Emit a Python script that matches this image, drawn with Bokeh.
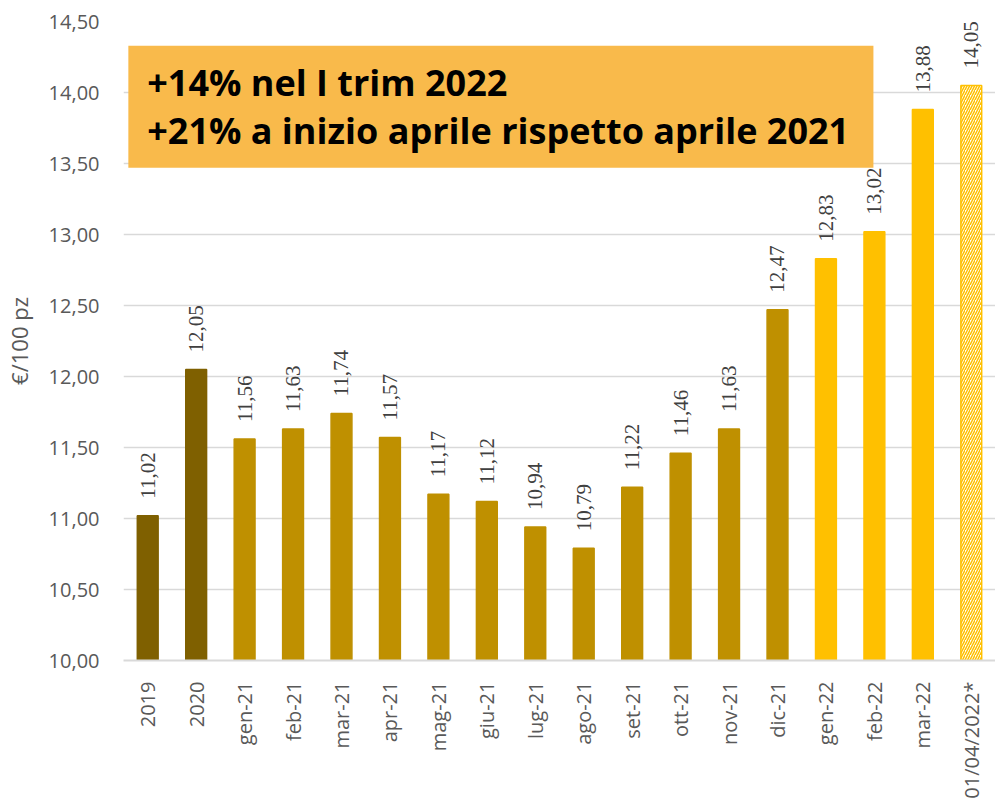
import math
from bokeh.plotting import figure
from bokeh.models import (ColumnDataSource, FixedTicker, CustomJSTickFormatter, BoxAnnotation,
                          Label, LabelSet)
from bokeh.embed import file_html
from bokeh.resources import INLINE

categories = ["2019", "2020", "gen-21", "feb-21", "mar-21", "apr-21", "mag-21", "giu-21",
              "lug-21", "ago-21", "set-21", "ott-21", "nov-21", "dic-21", "gen-22", "feb-22",
              "mar-22", "01/04/2022*"]
values = [11.02, 12.05, 11.56, 11.63, 11.74, 11.57, 11.17, 11.12, 10.94, 10.79, 11.22,
          11.46, 11.63, 12.47, 12.83, 13.02, 13.88, 14.05]
groups = ["anno", "anno"] + ["2021"] * 12 + ["2022"] * 3 + ["stima"]
y_ticks = [10.0, 10.5, 11.0, 11.5, 12.0, 12.5, 13.0, 13.5, 14.0, 14.5]
note_lines = ["+14% nel I trim 2022", "+21% a inizio aprile rispetto aprile 2021"]

color_map = {"anno": "#7F6000", "2021": "#BF9000", "2022": "#FFC000", "stima": "#FFFFFF"}
fills = [color_map[g] for g in groups]
lines = ["#FFC000" if g == "stima" else color_map[g] for g in groups]
hatches = ["/" if g == "stima" else " " for g in groups]
labels = [f"{v:.2f}".replace(".", ",") for v in values]

src = ColumnDataSource(dict(x=categories, top=values, fill=fills, line=lines,
                            hatch=hatches, label=labels))

FONT = "Open Sans"

p = figure(x_range=categories, y_range=(10, 14.5), width=995, height=801,
           min_border_left=115, min_border_top=21, min_border_right=0, min_border_bottom=140,
           output_backend="svg", toolbar_location=None)
p.outline_line_color = None
p.background_fill_color = "white"

p.vbar(x="x", top="top", bottom=10, width=0.43, source=src, fill_color="fill",
       line_color="line", line_width=1.5, hatch_pattern="hatch", hatch_color="#FFC000",
       hatch_scale=5, hatch_weight=1.5)

p.add_layout(LabelSet(x="x", y="top", text="label", source=src, angle=math.pi / 2,
                      y_offset=17, text_align="left", text_baseline="middle",
                      text_font=FONT, text_font_size="21px", text_color="#404040"))

box = BoxAnnotation(left=0.10, right=15.48, bottom=13.47, top=14.33,
                    fill_color="#F9BA4B", fill_alpha=1.0, line_color=None, level="overlay")
p.add_layout(box)
for txt, yy in zip(note_lines, [14.07, 13.735]):
    p.add_layout(Label(x=0.49, y=yy, text=txt, text_font=FONT, text_font_style="bold",
                       text_font_size="36px", text_color="black", text_baseline="middle",
                       text_align="left", level="overlay"))

p.yaxis.ticker = FixedTicker(ticks=y_ticks)
p.yaxis.formatter = CustomJSTickFormatter(code="return tick.toFixed(2).replace('.', ',');")
p.yaxis.axis_line_color = None
p.yaxis.major_tick_line_color = None
p.yaxis.minor_tick_line_color = None
p.yaxis.major_label_standoff = 18
p.yaxis.major_label_text_font = FONT
p.yaxis.major_label_text_font_size = "20px"
p.yaxis.major_label_text_color = "#595959"
p.yaxis.axis_label = "€/100 pz"
p.yaxis.axis_label_text_font = FONT
p.yaxis.axis_label_text_font_size = "22px"
p.yaxis.axis_label_text_font_style = "normal"
p.yaxis.axis_label_text_color = "#595959"
p.yaxis.axis_label_standoff = 12

p.xaxis.axis_line_color = "#D9D9D9"
p.xaxis.axis_line_width = 2
p.xaxis.major_tick_line_color = None
p.xaxis.minor_tick_line_color = None
p.xaxis.major_label_orientation = math.pi / 2
p.xaxis.major_label_standoff = 15
p.xaxis.major_label_text_font = FONT
p.xaxis.major_label_text_font_size = "20px"
p.xaxis.major_label_text_color = "#595959"

p.xgrid.grid_line_color = None
p.ygrid.grid_line_color = "#D9D9D9"
p.ygrid.grid_line_width = 1.5

open("out.html", "w").write(file_html(p, INLINE))
